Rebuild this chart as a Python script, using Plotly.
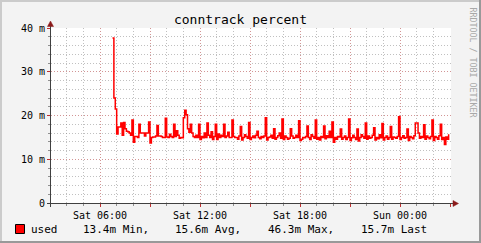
import pandas as pd
import plotly.graph_objects as go

# ---------------- data (values in milli-units, "m") ----------------
series_name = "used"
series_start = "2024-01-06 06:45"   # Saturday
series_step = "5min"
used_values = [
    37.7, 24.0, 21.5,                                                      # 06:45-06:55
    15.8, 17.4, 17.4, 18.3, 15.5, 18.4, 17.0, 16.4, 16.3, 16.0, 15.5, 19.0,  # 07
    13.9, 15.2, 15.2, 15.0, 18.0, 16.0, 16.0, 16.0, 15.3, 16.0, 16.0, 18.5,  # 08
    13.7, 15.0, 15.1, 15.1, 15.3, 17.7, 15.3, 15.3, 15.2, 15.0, 15.0, 19.4,  # 09
    15.1, 15.0, 15.7, 15.2, 15.0, 18.0, 15.2, 16.5, 15.5, 14.8, 15.0, 14.9,  # 10
    19.5, 21.2, 20.2, 17.0, 16.2, 18.0, 16.0, 15.2, 15.0, 15.5, 15.0, 18.0,  # 11
    14.5, 15.2, 14.9, 16.0, 15.0, 18.3, 15.5, 15.0, 16.3, 14.5, 15.2, 18.0,  # 12
    14.5, 15.8, 15.0, 15.5, 15.2, 18.0, 15.0, 15.3, 16.2, 15.0, 15.0, 19.0,  # 13
    15.2, 15.0, 15.0, 14.6, 15.3, 17.5, 14.4, 15.0, 15.6, 15.2, 14.8, 18.4,  # 14
    14.5, 15.0, 15.3, 14.9, 15.5, 16.4, 15.0, 14.7, 15.2, 15.0, 15.3, 19.5,  # 15
    14.4, 15.0, 15.1, 15.5, 14.8, 17.0, 14.6, 15.0, 15.4, 16.0, 14.8, 19.2,  # 16
    14.5, 15.3, 15.0, 14.6, 14.8, 17.0, 15.3, 14.8, 15.0, 15.5, 15.0, 18.8,  # 17
    14.3, 14.6, 15.0, 14.9, 15.2, 17.6, 15.0, 14.5, 15.6, 15.2, 14.8, 19.0,  # 18
    14.6, 15.0, 14.4, 15.2, 15.0, 17.6, 14.7, 15.4, 15.0, 16.4, 15.0, 18.5,  # 19
    13.9, 15.0, 14.6, 15.2, 15.1, 16.9, 14.6, 15.0, 15.3, 14.5, 15.0, 19.2,  # 20
    14.3, 14.9, 15.5, 15.0, 14.5, 16.9, 14.2, 15.0, 15.6, 15.2, 14.8, 18.3,  # 21
    14.6, 15.3, 14.8, 15.0, 15.5, 17.2, 14.4, 15.0, 14.7, 15.6, 14.9, 18.2,  # 22
    14.4, 15.0, 15.3, 14.6, 15.0, 17.5, 14.6, 15.1, 15.0, 14.8, 15.2, 19.7,  # 23
    14.5, 15.0, 15.4, 14.8, 15.0, 16.9, 14.3, 15.2, 15.0, 14.7, 15.4, 18.3,  # 00
    18.3, 16.0, 14.8, 15.2, 15.0, 17.9, 14.6, 15.3, 15.0, 14.7, 15.2, 19.0,  # 01
    14.3, 15.2, 15.0, 14.6, 15.4, 18.0, 14.5, 15.0, 13.4, 15.1, 14.6, 15.7,  # 02
]

title_text = "conntrack percent"
x_range = ["2024-01-06 03:03:36", "2024-01-07 03:03:36"]
x_major_ticks = ["2024-01-06 06:00", "2024-01-06 09:00", "2024-01-06 12:00",
                 "2024-01-06 15:00", "2024-01-06 18:00", "2024-01-06 21:00",
                 "2024-01-07 00:00", "2024-01-07 03:00"]
x_major_labels = ["Sat 06:00", "", "Sat 12:00", "", "Sat 18:00", "", "Sun 00:00", ""]
y_range = [0, 40]
y_ticks = [0, 10, 20, 30, 40]
y_labels = ["0", "10 m", "20 m", "30 m", "40 m"]
stat_values = ["13.4m", "15.6m", "46.3m", "15.7m"]
stat_names = ["Min,", "Avg,", "Max,", "Last"]
watermark = "RRDTOOL / TOBI OETIKER"

# ---------------- layout geometry ----------------
W, H = 481, 243
L, R, T, B = 51, 30, 28, 40
PW, PH = W - L - R, H - T - B
MONO = "DejaVu Sans Mono"


def px(x):
    return (x - L) / PW


def py(y):
    return (H - B - y) / PH


times = pd.date_range(series_start, periods=len(used_values), freq=series_step)

fig = go.Figure()
fig.add_trace(go.Scatter(
    x=times, y=used_values, mode="lines", line_shape="hv",
    line=dict(color="#FF0000", width=1.5), name=series_name,
    showlegend=False, hoverinfo="skip",
))

major_grid = "rgba(235,90,90,0.42)"
minor_grid = "rgba(130,130,130,0.5)"

fig.update_layout(
    width=W, height=H,
    margin=dict(l=L, r=R, t=T, b=B, pad=0),
    paper_bgcolor="#F3F3F3", plot_bgcolor="#FFFFFF",
    font=dict(family=MONO, size=10, color="#000000"),
    title=dict(text=title_text, x=0.5, xanchor="center", y=1 - 19.5 / H,
               yanchor="middle", font=dict(family=MONO, size=13, color="#000000")),
    xaxis=dict(
        range=x_range, type="date", tickmode="array",
        tickvals=x_major_ticks, ticktext=x_major_labels,
        showgrid=True, gridcolor=major_grid, griddash="1px,2px", gridwidth=1,
        ticks="outside", ticklen=3, tickcolor="#C03030", tickwidth=1,
        tickfont=dict(family=MONO, size=10),
        minor=dict(dtick=3600000, tick0="2024-01-06 00:00", showgrid=True,
                   gridcolor=minor_grid, griddash="1px,2px", gridwidth=1,
                   ticks="outside", ticklen=2, tickcolor="#909090"),
        zeroline=False, showline=False, fixedrange=True,
    ),
    yaxis=dict(
        range=y_range, tickmode="array", tickvals=y_ticks, ticktext=y_labels,
        showgrid=True, gridcolor=major_grid, griddash="1px,2px", gridwidth=1,
        ticks="outside", ticklen=3, tickcolor="#C03030", tickwidth=1,
        tickfont=dict(family=MONO, size=10),
        minor=dict(dtick=2, showgrid=True, gridcolor=minor_grid,
                   griddash="1px,2px", gridwidth=1,
                   ticks="outside", ticklen=2, tickcolor="#909090"),
        zeroline=False, showline=False, fixedrange=True,
    ),
)

axis_col = "#404040"
arrow_col = "#8B1A1A"
shapes = [
    # frame shading
    dict(type="rect", xref="paper", yref="paper", x0=px(0), x1=px(W), y0=py(H), y1=py(H - 2),
         fillcolor="#999999", line=dict(width=0), layer="above"),
    dict(type="rect", xref="paper", yref="paper", x0=px(W - 2), x1=px(W), y0=py(H), y1=py(0),
         fillcolor="#999999", line=dict(width=0), layer="above"),
    dict(type="rect", xref="paper", yref="paper", x0=px(0), x1=px(W - 2), y0=py(2), y1=py(0),
         fillcolor="#CBCBCB", line=dict(width=0), layer="above"),
    dict(type="rect", xref="paper", yref="paper", x0=px(0), x1=px(2), y0=py(H - 2), y1=py(0),
         fillcolor="#CBCBCB", line=dict(width=0), layer="above"),
    # axes
    dict(type="line", xref="paper", yref="paper", x0=px(47), x1=px(454), y0=py(203.5), y1=py(203.5),
         line=dict(color=axis_col, width=1), layer="above"),
    dict(type="line", xref="paper", yref="paper", x0=px(50.5), x1=px(50.5), y0=py(207), y1=py(25),
         line=dict(color=axis_col, width=1), layer="above"),
    # arrows
    dict(type="path", xref="paper", yref="paper",
         path=f"M {px(453)},{py(200.5)} L {px(458.5)},{py(203.5)} L {px(453)},{py(206.5)} Z",
         fillcolor=arrow_col, line=dict(color=arrow_col, width=0.5), layer="above"),
    dict(type="path", xref="paper", yref="paper",
         path=f"M {px(47.5)},{py(26.5)} L {px(50.5)},{py(21)} L {px(53.5)},{py(26.5)} Z",
         fillcolor=arrow_col, line=dict(color=arrow_col, width=0.5), layer="above"),
    # legend swatch
    dict(type="rect", xref="paper", yref="paper", x0=px(15.5), x1=px(24.5), y0=py(233.5), y1=py(224.5),
         fillcolor="#FF0000", line=dict(color="#000000", width=1), layer="above"),
]
fig.update_layout(shapes=shapes)

annotations = [
    dict(text=series_name, x=px(29), y=py(229), xref="paper", yref="paper",
         xanchor="left", yanchor="middle", showarrow=False,
         font=dict(family=MONO, size=11, color="#000000")),
    dict(text=watermark, x=px(472.5), y=py(5), xref="paper", yref="paper",
         xanchor="center", yanchor="top", showarrow=False, textangle=90,
         font=dict(family=MONO, size=8.3, color="#A8A8A8")),
]
stat_x = [80.5, 173, 265.5, 358.5]
for xv, val, name in zip(stat_x, stat_values, stat_names):
    annotations.append(dict(
        text=f"{val} {name}", x=px(xv), y=py(229), xref="paper", yref="paper",
        xanchor="left", yanchor="middle", showarrow=False,
        font=dict(family=MONO, size=11, color="#000000")))
fig.update_layout(annotations=annotations)

fig.write_html("out.html")
